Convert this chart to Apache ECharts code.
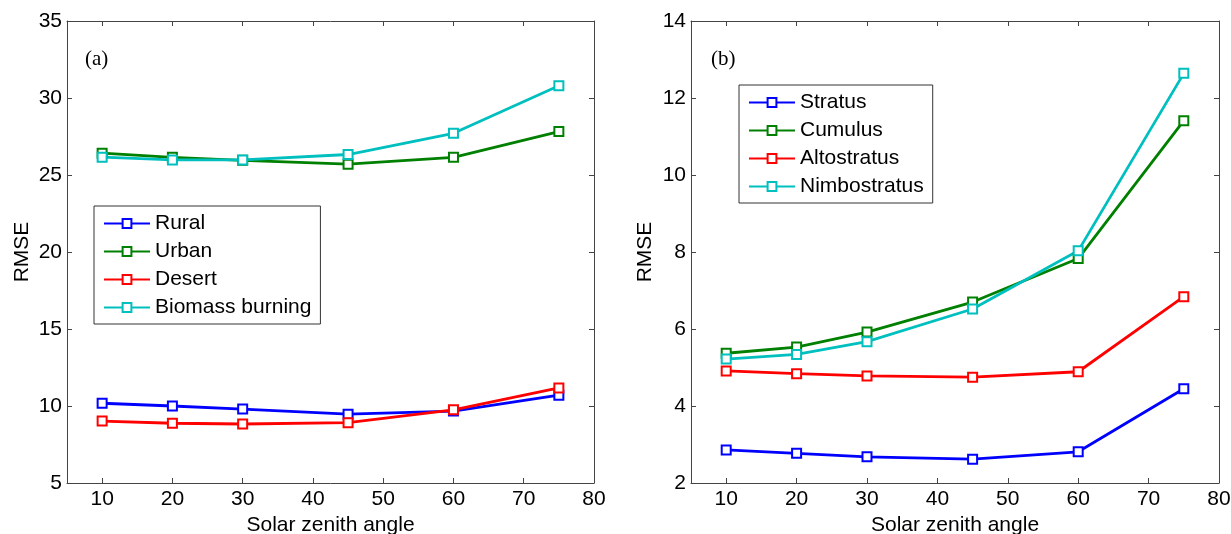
<!DOCTYPE html>
<html>
<head>
<meta charset="utf-8">
<script src="https://cdn.jsdelivr.net/npm/echarts@6/dist/echarts.min.js"></script>
<style>
  html, body { margin: 0; padding: 0; background: #fff; }
  #chart { width: 1231px; height: 534px; }
</style>
</head>
<body>
<div id="chart"></div>
<script>
// solar zenith angles sampled
var angles = [10, 20, 30, 45, 60, 75]
var xTicks = [10, 20, 30, 40, 50, 60, 70, 80]

// (a) aerosol types
var rural = [10.18, 10.0, 9.8, 9.47, 9.67, 10.7]
var urban = [26.42, 26.15, 25.95, 25.7, 26.15, 27.82]
var desert = [9.02, 8.88, 8.83, 8.92, 9.75, 11.17]
var biomass = [26.16, 25.98, 25.98, 26.33, 27.71, 30.8]

// (b) cloud types
var stratus = [2.86, 2.77, 2.68, 2.62, 2.81, 4.45]
var cumulus = [5.37, 5.53, 5.92, 6.7, 7.83, 11.41]
var altostratus = [4.91, 4.84, 4.78, 4.75, 4.89, 6.84]
var nimbostratus = [5.22, 5.34, 5.67, 6.52, 8.03, 12.64]

var colors = { blue: '#0000ff', green: '#008000', red: '#ff0000', cyan: '#00bfbf' }
var font = 'Liberation Sans'
var axisColor = '#444'

function pts(vals) {
  return angles.map(function (a, i) { return [a, vals[i]] })
}

function line(name, vals, color, idx) {
  return {
    name: name,
    type: 'line',
    xAxisIndex: idx,
    yAxisIndex: idx,
    data: pts(vals),
    symbol: 'emptyRect',
    symbolSize: 9,
    color: color,
    lineStyle: { width: 2.8, color: color },
    itemStyle: { color: color, borderColor: color, borderWidth: 2.5 },
    emphasis: { disabled: true },
    z: 3
  }
}

function xAxes(grid) {
  var base = {
    type: 'value', gridIndex: grid, min: 5, max: 80,
    splitLine: { show: false },
    axisLine: { show: true, onZero: false, lineStyle: { color: axisColor, width: 1 } },
    axisTick: { show: true, inside: true, length: 5, customValues: xTicks, lineStyle: { color: axisColor } }
  }
  var bottom = Object.assign({}, base, {
    position: 'bottom',
    name: 'Solar zenith angle',
    nameLocation: 'middle',
    nameGap: 31,
    nameTextStyle: { fontFamily: font, fontSize: 21, color: '#000' },
    axisLabel: { customValues: xTicks, margin: 6, fontFamily: font, fontSize: 21, color: '#000' }
  })
  var top = Object.assign({}, base, { position: 'top', axisLabel: { show: false } })
  return [bottom, top]
}

function yAxes(grid, min, max, step, gap) {
  var base = {
    type: 'value', gridIndex: grid, min: min, max: max, interval: step,
    splitLine: { show: false },
    axisLine: { show: true, onZero: false, lineStyle: { color: axisColor, width: 1 } },
    axisTick: { show: true, inside: true, length: 5, lineStyle: { color: axisColor } }
  }
  var left = Object.assign({}, base, {
    position: 'left',
    name: 'RMSE',
    nameLocation: 'middle',
    nameGap: gap,
    nameTextStyle: { fontFamily: font, fontSize: 21, color: '#000' },
    axisLabel: { margin: 5, fontFamily: font, fontSize: 21, color: '#000' }
  })
  var right = Object.assign({}, base, { position: 'right', axisLabel: { show: false } })
  return [left, right]
}

function legend(names, left, top) {
  return {
    data: names,
    orient: 'vertical',
    left: left,
    top: top,
    itemWidth: 46,
    itemHeight: 11,
    itemGap: 7,
    padding: [7, 9, 6, 9],
    borderColor: '#333',
    borderWidth: 1,
    backgroundColor: '#fff',
    textStyle: { fontFamily: font, fontSize: 21, color: '#000', lineHeight: 21 }
  }
}

var xa = xAxes(0).concat(xAxes(1))
var ya = yAxes(0, 5, 35, 5, 34).concat(yAxes(1, 2, 14, 2, 35))

var chart = echarts.init(document.getElementById('chart'))
chart.setOption({
  animation: false,
  backgroundColor: '#fff',
  grid: [
    { left: 67, top: 21, width: 527, height: 462, outerBoundsMode: 'none' },
    { left: 691, top: 21, width: 528, height: 462, outerBoundsMode: 'none' }
  ],
  xAxis: xa,
  yAxis: ya,
  legend: [
    legend(['Rural', 'Urban', 'Desert', 'Biomass burning'], 94, 206),
    legend(['Stratus', 'Cumulus', 'Altostratus', 'Nimbostratus'], 739, 85)
  ],
  graphic: [
    { type: 'text', left: 85, top: 49, style: { text: '(a)', font: '21px "Liberation Serif"', fill: '#000' } },
    { type: 'text', left: 711, top: 49, style: { text: '(b)', font: '21px "Liberation Serif"', fill: '#000' } }
  ],
  series: [
    line('Rural', rural, colors.blue, 0),
    line('Urban', urban, colors.green, 0),
    line('Desert', desert, colors.red, 0),
    line('Biomass burning', biomass, colors.cyan, 0),
    // second panel uses axis index 2 (every grid has a top/right twin)
    line('Stratus', stratus, colors.blue, 2),
    line('Cumulus', cumulus, colors.green, 2),
    line('Altostratus', altostratus, colors.red, 2),
    line('Nimbostratus', nimbostratus, colors.cyan, 2)
  ]
})
</script>
</body>
</html>
